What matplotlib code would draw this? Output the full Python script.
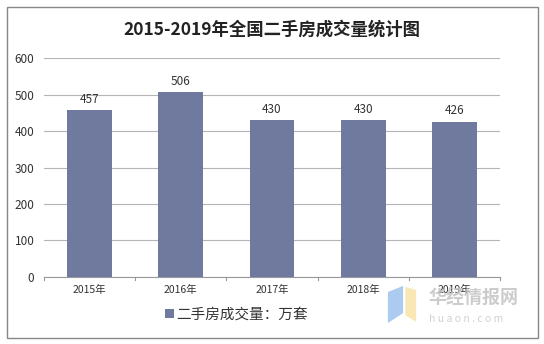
import matplotlib.pyplot as plt
from matplotlib.patches import Rectangle, Polygon

plt.rcParams['font.family'] = ['Noto Sans CJK SC', 'DejaVu Sans']

# data
years = ['2015年', '2016年', '2017年', '2018年', '2019年']
volumes = [457, 506, 430, 430, 426]
yticks = [0, 100, 200, 300, 400, 500, 600]
bar_color = '#6f7a9e'

fig = plt.figure(figsize=(5.44, 3.44), dpi=100)
ax = fig.add_axes([0.081, 0.195, 0.838, 0.636])

x = range(len(years))
bars = ax.bar(x, volumes, width=0.49, color=bar_color, zorder=3,
              label='二手房成交量：万套')
for xi, v in zip(x, volumes):
    ax.text(xi, v + 12, str(v), ha='center', va='bottom', fontsize=8.5,
            color='#333333', zorder=4)

ax.set_xlim(-0.5, len(years) - 0.5)
ax.set_ylim(0, 600)
ax.set_yticks(yticks)
ax.set_yticklabels([str(t) for t in yticks], fontsize=8.5, color='#333333')
ax.set_xticks(list(x))
ax.set_xticklabels(years, fontsize=7.5, color='#333333')
ax.tick_params(axis='y', length=0, pad=7)
ax.tick_params(axis='x', length=0, pad=6)

# category boundary tick marks on the x axis
for b in [i - 0.5 for i in range(len(years) + 1)]:
    ax.plot([b, b], [0, -8], color='#999999', lw=0.8, clip_on=False, zorder=2)

ax.grid(axis='y', color='#b4b4b4', lw=0.8, zorder=0)
for s in ['top', 'right', 'left']:
    ax.spines[s].set_visible(False)
ax.spines['bottom'].set_color('#999999')
ax.spines['bottom'].set_linewidth(0.8)

fig.text(0.5, 0.915, '2015-2019年全国二手房成交量统计图', ha='center', va='center',
         fontsize=12.5, fontweight='bold', color='#222222')

leg = fig.legend(handles=[bars], loc='center', bbox_to_anchor=(0.435, 0.085),
                 frameon=False, fontsize=10.5, handlelength=0.6, handleheight=0.6,
                 handletextpad=0.2)
for t in leg.get_texts():
    t.set_color('#333333')

# outer frame
fig.add_artist(Rectangle((7 / 544, 6 / 344), 531 / 544, 331 / 344,
                         transform=fig.transFigure, fill=False,
                         edgecolor='#888888', lw=1))

# watermark logo
fig.add_artist(Polygon([(0.713, 0.151), (0.741, 0.169), (0.741, 0.090), (0.713, 0.061)],
                       closed=True, transform=fig.transFigure, color='#9cc3ee',
                       alpha=0.85, lw=0))
fig.add_artist(Polygon([(0.745, 0.166), (0.765, 0.157), (0.765, 0.064), (0.745, 0.084)],
                       closed=True, transform=fig.transFigure, color='#f8e4a8',
                       alpha=0.85, lw=0))
fig.text(0.787, 0.134, '华经情报网', fontsize=13, fontweight='bold', color='#c4c4c4',
         ha='left', va='center', alpha=0.85)
fig.text(0.789, 0.072, 'h u a o n . c o m', fontsize=7.5, color='#cccccc',
         ha='left', va='center', alpha=0.9)

fig.savefig('out.png', dpi=100)
